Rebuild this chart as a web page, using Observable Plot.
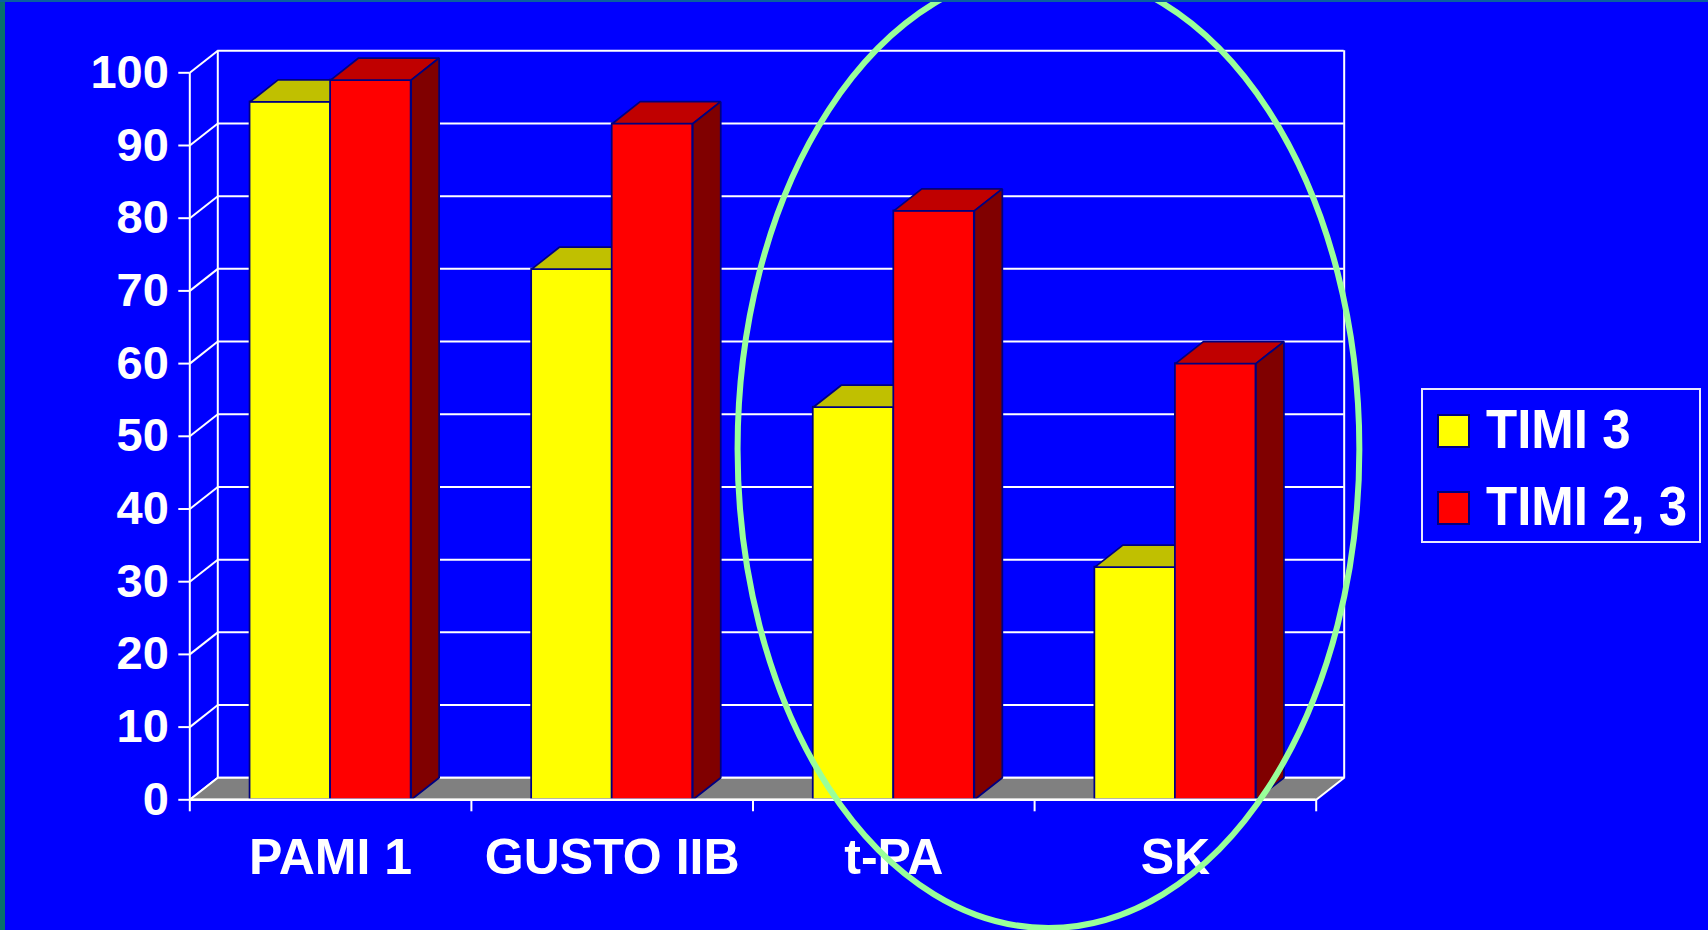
<!DOCTYPE html>
<html>
<head>
<meta charset="utf-8">
<script src="https://cdn.jsdelivr.net/npm/d3@7"></script>
<script src="https://cdn.jsdelivr.net/npm/@observablehq/plot@0.6"></script>
<style>
  html, body { margin: 0; padding: 0; background: #0000FF; overflow: hidden; }
  body { width: 1708px; height: 930px; position: relative; font-family: "Liberation Sans", Arial, sans-serif; }
  #edge { position: absolute; left: 0; top: 0; width: 5px; height: 930px; background: #07706e; }
  #edgeTop { position: absolute; left: 0; top: 0; width: 1708px; height: 2px; background: #0a5fa0; }
  #chart { position: absolute; left: 0; top: 0; }
  svg [aria-label="x-axis tick"] path, svg [aria-label="y-axis tick"] path, svg .tick line { stroke-width: 2px; stroke: #ffffff; }
  #legend { position: absolute; left: 1421px; top: 388px; width: 276px; height: 151px; border: 2px solid #e8e8ff; }
  .sw { position: absolute; width: 29px; height: 30px; border: 2px solid #000080; }
  .lt { position: absolute; color: #fff; font-weight: bold; font-size: 51px; line-height: 52px; white-space: nowrap; transform: scaleY(1.07); transform-origin: left bottom; }
</style>
</head>
<body>
<div id="chart"></div>
<div id="edge"></div>
<div id="edgeTop"></div>
<div id="legend"></div>
<script>
// ---- data ----
const categories = ["PAMI 1", "GUSTO IIB", "t-PA", "SK"];
const timi3 = [96, 73, 54, 32];
const timi23 = [99, 93, 81, 60];
const seriesNames = ["TIMI 3", "TIMI 2, 3"];
const yTicks = [0, 10, 20, 30, 40, 50, 60, 70, 80, 90, 100];

// ---- styling / 3D geometry (in data units) ----
const seriesColors = [
  {front: "#FFFF00", top: "#C0C000", side: "#808000"},
  {front: "#FF0000", top: "#C00000", side: "#800000"}
];
const BAR_W = 0.286;   // bar width as a fraction of a category slot
const DX = 0.0994;     // depth offset along x
const DY = 3.03;       // depth offset along y
const OUTLINE = "#000080";
const N = categories.length;

const series = [timi3, timi23];

function frontRows(s) {
  return categories.map((c, i) => {
    const x0 = i + 0.5 - BAR_W + s * BAR_W;
    return {cat: c, x1: x0, x2: x0 + BAR_W, v: series[s][i]};
  });
}
function topRows(s) {
  const rows = [];
  categories.forEach((c, i) => {
    const x0 = i + 0.5 - BAR_W + s * BAR_W, x1 = x0 + BAR_W, v = series[s][i];
    rows.push({k: c, x: x0, y: v}, {k: c, x: x1, y: v}, {k: c, x: x1 + DX, y: v + DY}, {k: c, x: x0 + DX, y: v + DY});
  });
  return rows;
}
function sideRows(s) {
  const rows = [];
  categories.forEach((c, i) => {
    const x0 = i + 0.5 - BAR_W + s * BAR_W, x1 = x0 + BAR_W, v = series[s][i];
    rows.push({k: c, x: x1, y: 0}, {k: c, x: x1 + DX, y: DY}, {k: c, x: x1 + DX, y: v + DY}, {k: c, x: x1, y: v});
  });
  return rows;
}
const floorRows = [{k: "f", x: 0, y: 0}, {k: "f", x: N, y: 0}, {k: "f", x: N + DX, y: DY}, {k: "f", x: DX, y: DY}];

const barMarks = [];
series.forEach((_, s) => {
  barMarks.push(
    Plot.rect(frontRows(s), {x1: "x1", x2: "x2", y1: 0, y2: "v", fill: seriesColors[s].front, stroke: OUTLINE, strokeWidth: 1.75}),
    Plot.line(topRows(s), {x: "x", y: "y", z: "k", curve: "linear-closed", fill: seriesColors[s].top, stroke: OUTLINE, strokeWidth: 1.75, strokeLinejoin: "miter"}),
    Plot.line(sideRows(s), {x: "x", y: "y", z: "k", curve: "linear-closed", fill: seriesColors[s].side, stroke: OUTLINE, strokeWidth: 1.75, strokeLinejoin: "miter"})
  );
});

const plot = Plot.plot({
  width: 1708,
  height: 930,
  marginLeft: 189.3,
  marginRight: 392.3,
  marginTop: 72.3,
  marginBottom: 130.7,
  style: {background: "transparent", color: "white", fontFamily: "'Liberation Sans', Arial, sans-serif", fontWeight: "bold", fontSize: "47px", overflow: "visible"},
  x: {domain: [0, N], ticks: d3.range(N + 1), tickFormat: () => "", tickSize: 12, label: null},
  y: {domain: [0, 100], ticks: yTicks, tickSize: 11, tickPadding: 10, tickFormat: d => String(d), label: null},
  marks: [
    Plot.ruleY(yTicks, {y: d => d + DY, x1: DX, x2: N + DX, stroke: "white", strokeWidth: 2}),
    Plot.link(yTicks, {x1: 0, y1: d => d, x2: DX, y2: d => d + DY, stroke: "white", strokeWidth: 2}),
    Plot.ruleX([DX, N + DX], {y1: DY, y2: 100 + DY, stroke: "white", strokeWidth: 2}),
    Plot.line(floorRows, {x: "x", y: "y", z: "k", curve: "linear-closed", fill: "#808080", stroke: "white", strokeWidth: 2}),
    Plot.ruleX([0], {y1: 0, y2: 100, stroke: "white", strokeWidth: 2}),
    ...barMarks,
    Plot.ruleY([0], {x1: 0, x2: N, stroke: "white", strokeWidth: 2.5}),
    Plot.text(categories, {x: (d, i) => i + 0.5, frameAnchor: "bottom", dy: 74, text: d => d, fill: "white", fontSize: 50, fontWeight: "bold"})
  ]
});
document.getElementById("chart").appendChild(plot);

// highlight ellipse around t-PA and SK (annotation)
const svg = d3.select(plot.tagName.toLowerCase() === "svg" ? plot : plot.querySelector("svg"));
const xs = d3.scaleLinear().domain([0, N]).range([189.3, 1708 - 392.3]);
const ys = d3.scaleLinear().domain([0, 100]).range([930 - 130.7, 72.3]);
const ell = {cx: 3.051, cy: 48.2, rx: 1.104, ry: 65.9};
svg.append("ellipse")
  .attr("cx", xs(ell.cx)).attr("cy", ys(ell.cy))
  .attr("rx", xs(ell.rx) - xs(0)).attr("ry", ys(0) - ys(ell.ry))
  .attr("fill", "none").attr("stroke", "#99FF99").attr("stroke-width", 6);

// legend
const legend = document.getElementById("legend");
const swTops = [24, 101];
const txtTops = [16, 93];
seriesNames.forEach((name, s) => {
  const sw = document.createElement("div");
  sw.className = "sw";
  sw.style.left = "14px";
  sw.style.top = swTops[s] + "px";
  sw.style.background = seriesColors[s].front;
  legend.appendChild(sw);
  const t = document.createElement("div");
  t.className = "lt";
  t.style.left = "63px";
  t.style.top = txtTops[s] + "px";
  t.textContent = name;
  legend.appendChild(t);
});
</script>
</body>
</html>
